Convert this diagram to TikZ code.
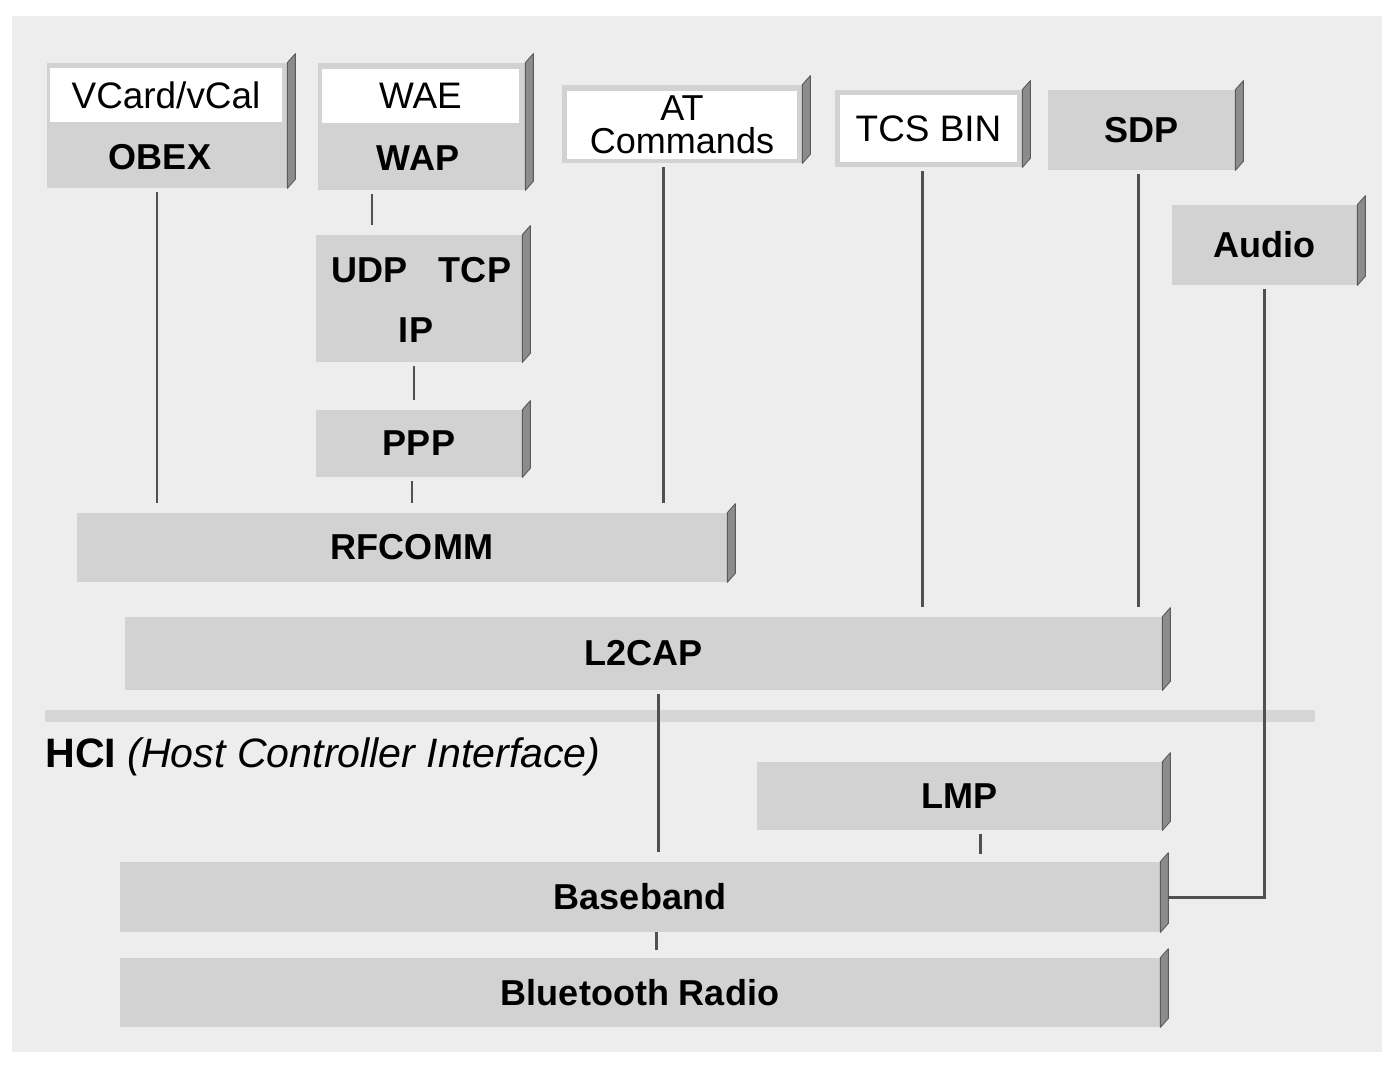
\documentclass[tikz,border=0pt]{standalone}
\usepackage{fontspec}
\setmainfont{Liberation Sans}

\definecolor{paper}{HTML}{EDEDED}
\definecolor{boxgray}{HTML}{D2D2D2}
\definecolor{sidegray}{HTML}{8C8C8C}
\definecolor{sidedark}{HTML}{5A5A5A}
\definecolor{linkgray}{HTML}{505050}
\definecolor{bandgray}{HTML}{D6D6D6}

\tikzset{
  dims/.style 2 args={minimum width=#1*0.02cm, minimum height=#2*0.02cm},
  layer/.style={rectangle, fill=boxgray, inner sep=0pt, font=\bfseries\fontsize{20.5}{22}\selectfont},
  pane/.style={rectangle, fill=white, inner sep=0pt, align=center, font=\fontsize{21}{16}\selectfont},
  lbl/.style={inner sep=0pt, font=\bfseries\fontsize{20.5}{22}\selectfont},
  side/.style={fill=sidegray, draw=sidedark, line width=0.5pt, line join=round},
  link/.style={draw=linkgray, line width=1.7pt, shorten <=0.08cm, shorten >=0.2cm},
}

\begin{document}
\begin{tikzpicture}[x=0.02cm, y=-0.02cm]
    \useasboundingbox (0,0) rectangle (1382,1065);
    \fill[white] (0,0) rectangle (1382,1065);
    \fill[paper] (12,16) rectangle (1382,1052);

    % upper layers
    \node[layer, dims={240}{125}] (obex) at (167,125.5) {};
    \node[pane, dims={232}{54}] (vcard) at (166,95) {VCard/vCal};
    \node[lbl] (obexlbl) at (160,157) {OBEX};

    \node[layer, dims={207}{127}] (wap) at (421.5,126.5) {};
    \node[pane, dims={197}{54}] (wae) at (420.5,96) {WAE};
    \node[lbl] (waplbl) at (418,158) {WAP};

    \node[layer, dims={240}{78}] (at) at (682,124) {};
    \node[pane, dims={230}{68}, font=\fontsize{20.5}{18.5}\selectfont] (atcmd) at (682,125) {AT\\Commands};

    \node[layer, dims={187}{77}] (tcs) at (928.5,128.5) {};
    \node[pane, dims={177}{67}] (tcsbin) at (928.5,128.5) {TCS BIN};

    \node[layer, dims={187}{80}] (sdp) at (1141.5,130) {SDP};
    \node[layer, dims={185}{80}] (audio) at (1264.5,245) {Audio};

    \node[layer, dims={206}{127}] (ip) at (419,298.5) {};
    \node[lbl] (udp) at (370,270) {UDP};
    \node[lbl] (tcp) at (475,270) {TCP};
    \node[lbl] (iplbl) at (416,330) {IP};

    \node[layer, dims={206}{67}] (ppp) at (419,443.5) {PPP};

    % lower layers
    \node[layer, dims={650}{69}, text width=13cm, align=center] (rfcomm) at (402,547.5) {\hspace*{0.4cm}RFCOMM};
    \node[layer, dims={1037}{73}] (l2cap) at (643.5,653.5) {L2CAP};

    \fill[bandgray] (45,710) rectangle (1315,722);
    \node[anchor=west, inner sep=0pt, font=\fontsize{23.4}{26}\selectfont] (hci) at (45,757)
        {\textbf{HCI} \textit{(Host Controller Interface)}};

    \node[layer, dims={405}{68}] (lmp) at (959.5,796) {LMP};
    \node[layer, dims={1040}{70}] (baseband) at (640,897) {Baseband};
    \node[layer, dims={1040}{69}] (radio) at (640,992.5) {Bluetooth Radio};

    % right-hand faces
    \foreach \b in {obex,wap,at,tcs,sdp,audio,ip,ppp,rfcomm,l2cap,lmp,baseband,radio}
        \filldraw[side] (\b.north east) -- ++(8,-9) -- ([shift={(8,-9)}]\b.south east) -- (\b.south east) -- cycle;

    % connectors
    \draw[link] (157,0 |- obex.south) -- (157,0 |- rfcomm.north);
    \draw[link] (372,0 |- wap.south) -- (372,0 |- ip.north);
    \draw[link] (414,0 |- ip.south) -- (414,0 |- ppp.north);
    \draw[link] (412,0 |- ppp.south) -- (412,0 |- rfcomm.north);
    \draw[link] (663,0 |- at.south) -- (663,0 |- rfcomm.north);
    \draw[link] (922,0 |- tcs.south) -- (922,0 |- l2cap.north);
    \draw[link] (1138,0 |- sdp.south) -- (1138,0 |- l2cap.north);
    \draw[link] (658,0 |- l2cap.south) -- (658,0 |- baseband.north);
    \draw[link, shorten >=0.16cm] (980,0 |- lmp.south) -- (980,0 |- baseband.north);
    \draw[link, shorten <=0pt, shorten >=0.16cm] (656,0 |- baseband.south) -- (656,0 |- radio.north);
    \draw[link, shorten >=0pt] (audio.south) |- ([xshift=0.16cm]baseband.east);
\end{tikzpicture}
\end{document}
